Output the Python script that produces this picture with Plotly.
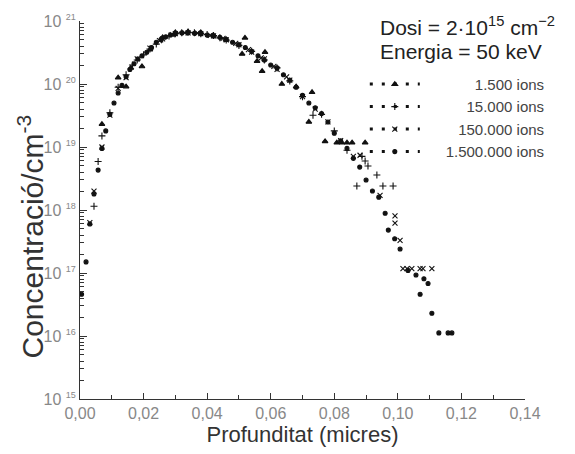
import plotly.graph_objects as go

# ---- data (depth in microns, concentration in cm^-3) ----
depth_1500 = [0.0069, 0.0120, 0.0145, 0.0160, 0.0195, 0.0220, 0.0260, 0.0300, 0.0340, 0.0380,
              0.0420, 0.0460, 0.0510, 0.0519, 0.0557, 0.0573, 0.0582, 0.0635, 0.0680, 0.0720,
              0.0730, 0.0771, 0.0808, 0.0824, 0.0840, 0.0856, 0.0897]
conc_1500 = [2.3e19, 1.26e20, 9.1e19, 1.8e20, 1.9e20, 3.5e20, 5.5e20, 6.6e20, 6.8e20, 6.6e20,
             5.9e20, 5.0e20, 3.0e20, 5.4e20, 2.3e20, 1.6e20, 3.2e20, 1.0e20, 9.1e19, 2.5e19,
             7.4e19, 1.23e19, 1.17e19, 1.17e19, 1.17e19, 1.17e19, 1.17e19]

depth_15000 = [0.0044, 0.0057, 0.0069, 0.0094, 0.0120, 0.0145, 0.0165, 0.0180, 0.0200, 0.0220,
               0.0240, 0.0260, 0.0280, 0.0300, 0.0320, 0.0340, 0.0360, 0.0380, 0.0400, 0.0420,
               0.0440, 0.0460, 0.0500, 0.0540, 0.0580, 0.0620, 0.0660, 0.0700, 0.0733, 0.0760,
               0.0800, 0.0840, 0.0871, 0.0887, 0.0897, 0.0906, 0.0934, 0.0953, 0.0985]
conc_15000 = [1.15e18, 5.9e18, 1.5e19, 3.5e19, 8.9e19, 1.4e20, 2.0e20, 2.4e20, 2.9e20, 3.6e20,
              4.3e20, 5.2e20, 5.8e20, 6.3e20, 6.5e20, 6.6e20, 6.5e20, 6.3e20, 6.1e20, 5.9e20,
              5.4e20, 5.0e20, 4.1e20, 3.3e20, 2.4e20, 1.8e20, 1.12e20, 6.3e19, 3.2e19, 3.3e19,
              1.8e19, 8.9e18, 2.4e18, 7.1e18, 6.0e18, 5.0e18, 3.6e18, 2.4e18, 2.4e18]

depth_150000 = [0.0031, 0.0044, 0.0069, 0.0094, 0.0120, 0.0145, 0.0180, 0.0220, 0.0250, 0.0260,
                0.0290, 0.0300, 0.0330, 0.0340, 0.0370, 0.0380, 0.0410, 0.0420, 0.0450, 0.0460,
                0.0490, 0.0500, 0.0530, 0.0540, 0.0570, 0.0580, 0.0610, 0.0620, 0.0650, 0.0660,
                0.0700, 0.0740, 0.0780, 0.0820, 0.0860, 0.0881, 0.0944, 0.0991, 0.0991, 0.1007,
                0.1016, 0.1029, 0.1044, 0.1070, 0.1079, 0.1107]
conc_150000 = [6.3e17, 2.0e18, 1.0e19, 3.2e19, 8.5e19, 1.26e20, 2.5e20, 3.7e20, 4.9e20, 5.2e20,
               6.1e20, 6.3e20, 6.5e20, 6.5e20, 6.4e20, 6.3e20, 5.9e20, 5.8e20, 5.3e20, 5.0e20,
               4.4e20, 4.2e20, 3.5e20, 3.2e20, 2.6e20, 2.5e20, 1.9e20, 1.7e20, 1.3e20, 1.15e20,
               6.3e19, 4.0e19, 2.5e19, 1.26e19, 7.1e18, 7.4e18, 1.7e18, 8.1e17, 6.2e17, 3.3e17,
               1.17e17, 1.17e17, 1.17e17, 1.17e17, 1.17e17, 1.17e17]

depth_1500000 = [0.0005, 0.0019, 0.0031, 0.0044, 0.0057, 0.0069, 0.0081, 0.0094, 0.0107, 0.0120,
                 0.0132, 0.0145, 0.0157, 0.0170, 0.0182, 0.0195, 0.0210, 0.0225, 0.0240, 0.0255,
                 0.0270, 0.0285, 0.0300, 0.0320, 0.0340, 0.0360, 0.0380, 0.0400, 0.0420, 0.0440,
                 0.0460, 0.0480, 0.0500, 0.0520, 0.0540, 0.0560, 0.0580, 0.0600, 0.0620, 0.0640,
                 0.0660, 0.0680, 0.0700, 0.0720, 0.0740, 0.0760, 0.0780, 0.0800, 0.0820, 0.0840,
                 0.0860, 0.0880, 0.0900, 0.0920, 0.0940, 0.0960, 0.0970, 0.0990, 0.1007, 0.1032,
                 0.1057, 0.1070, 0.1082, 0.1095, 0.1107, 0.1129, 0.1158, 0.1170]
conc_1500000 = [4.6e16, 1.5e17, 6.0e17, 1.8e18, 4.3e18, 9.5e18, 1.8e19, 3.3e19, 5.0e19, 7.2e19,
                9.5e19, 1.3e20, 1.7e20, 2.1e20, 2.5e20, 2.8e20, 3.2e20, 3.8e20, 4.6e20, 5.1e20,
                5.6e20, 6.0e20, 6.3e20, 6.5e20, 6.5e20, 6.4e20, 6.3e20, 6.0e20, 5.8e20, 5.5e20,
                5.1e20, 4.6e20, 4.2e20, 3.8e20, 3.3e20, 2.8e20, 2.4e20, 2.0e20, 1.8e20, 1.4e20,
                1.15e20, 8.9e19, 6.6e19, 5.0e19, 4.2e19, 3.4e19, 2.5e19, 1.66e19, 1.26e19, 9.5e18,
                6.6e18, 4.8e18, 3.0e18, 2.0e18, 1.6e18, 8.9e17, 4.8e17, 3.5e17, 2.4e17, 1.1e17,
                9.3e16, 4.6e16, 8.1e16, 6.8e16, 2.3e16, 1.12e16, 1.12e16, 1.12e16]

series_labels = ["1.500 ions", "15.000 ions", "150.000 ions", "1.500.000 ions"]
y_exponents = [15, 16, 17, 18, 19, 20, 21]
y_minor_ticks = [m * 10.0 ** e for e in range(15, 21) for m in range(2, 10)]

# ---- styling ----
INK = "#111111"
AXIS = "#333333"
FONT = "Liberation Sans, Arial, Helvetica, sans-serif"
symbols = ["triangle-up", "cross-thin", "x-thin", "circle"]
sizes = [5, 5, 5, 4]
GAP = "\u2007\u2007\u2008"  # extra room between sample row and label
pads = [GAP + "\u2007\u2007\u2007\u2008", GAP + "\u2007\u2007\u2008", GAP + "\u2007\u2008", GAP]
datasets = [(depth_1500, conc_1500), (depth_15000, conc_15000),
            (depth_150000, conc_150000), (depth_1500000, conc_1500000)]

fig = go.Figure()
for i, (lab, (xs, ys)) in enumerate(zip(series_labels, datasets)):
    mk = dict(symbol=symbols[i], size=sizes[i], color=INK, line=dict(color=INK, width=1.1))
    fig.add_trace(go.Scatter(x=xs, y=ys, mode="markers", marker=mk, name=lab,
                             legendgroup=lab, showlegend=False, hoverinfo="x+y"))
    fig.add_trace(go.Scatter(x=[None], y=[None], mode="lines+markers", name=pads[i] + lab,
                             legendgroup=lab, showlegend=True,
                             marker=dict(symbol=symbols[i], size=sizes[i], color=INK,
                                         line=dict(color=INK, width=1.1)),
                             line=dict(color=INK, width=3, dash="3px,9px")))

ticktext_y = ["10\u00a0<sup><span style='font-size:9px'>%d</span></sup>" % e for e in y_exponents]

fig.update_layout(
    width=575, height=454,
    margin=dict(l=80, r=50, t=16, b=55),
    paper_bgcolor="white", plot_bgcolor="white",
    separators=",.",
    font=dict(family=FONT, color="#333"),
    showlegend=True,
    legend=dict(x=0.64, y=0.876, xanchor="left", yanchor="top",
                bgcolor="rgba(0,0,0,0)", font=dict(size=15, color="#444"),
                itemwidth=50, tracegroupgap=0, traceorder="normal"),
    xaxis=dict(range=[0, 0.14], tickmode="linear", tick0=0, dtick=0.02, tickformat=".2f",
               ticks="inside", ticklen=6, tickcolor=AXIS, tickwidth=1,
               minor=dict(tickmode="linear", tick0=0, dtick=0.01, ticks="inside", ticklen=4,
                          tickcolor=AXIS, tickwidth=1, showgrid=False),
               showline=True, linecolor=AXIS, linewidth=1,
               showgrid=False, zeroline=False,
               tickfont=dict(size=16, color="#888"),
               title=dict(text="Profunditat (micres)", font=dict(size=22, color="#333"), standoff=2)),
    yaxis=dict(type="log", range=[15, 21],
               tickmode="array", tickvals=[10.0 ** e for e in y_exponents], ticktext=ticktext_y,
               ticks="inside", ticklen=7, tickcolor=AXIS, tickwidth=1,
               minor=dict(tickmode="array", tickvals=y_minor_ticks, ticks="inside", ticklen=4,
                          tickcolor=AXIS, tickwidth=1, showgrid=False),
               showline=True, linecolor=AXIS, linewidth=1,
               showgrid=False, zeroline=False,
               tickfont=dict(size=16, color="#888")),
    annotations=[
        dict(text="Concentració/cm<sup>-3</sup>", xref="paper", yref="paper",
             x=-0.11, y=0.43, xanchor="center", yanchor="middle", textangle=-90,
             showarrow=False, font=dict(size=30, color="#333")),
        dict(text="Dosi = 2\u00b710<sup>15</sup> cm<sup>\u22122</sup>", xref="paper", yref="paper",
             x=0.67, y=0.987, xanchor="left", yanchor="middle", showarrow=False,
             font=dict(size=21, color="#222")),
        dict(text="Energia = 50 keV", xref="paper", yref="paper",
             x=0.67, y=0.92, xanchor="left", yanchor="middle", showarrow=False,
             font=dict(size=21, color="#222")),
    ],
)

fig.write_html("out.html")
